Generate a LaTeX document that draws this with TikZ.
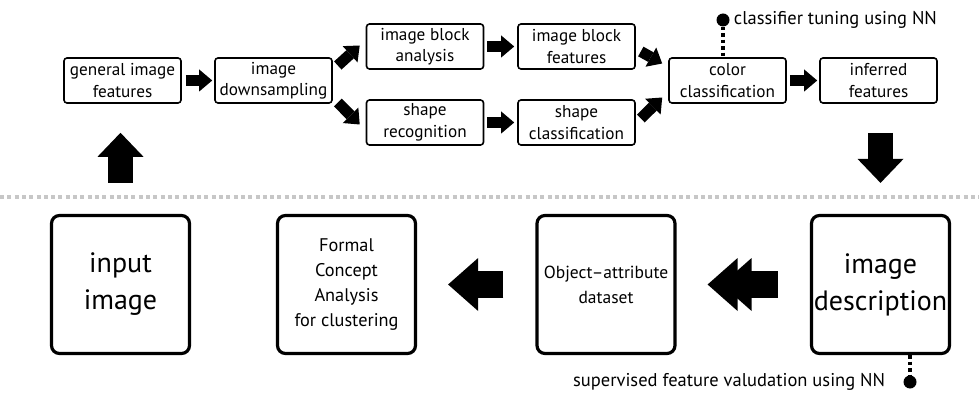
\documentclass[tikz,border=0pt]{standalone}
\usepackage{fontspec}
\setmainfont{PT Sans}
\usetikzlibrary{arrows.meta, calc}
\begin{document}
\begin{tikzpicture}[x=1pt, y=-1pt]
            \tikzset{
                box/.style={draw, line width=1.6pt, rounded corners=3pt, minimum width=117pt, minimum height=45pt, inner sep=0pt, align=center, font=\fontsize{17.2}{21.5}\selectfont},
                bigbox/.style={draw, line width=3.2pt, rounded corners=8pt, minimum width=138pt, minimum height=138pt, inner sep=0pt, align=center},
                flow/.style={line width=11pt, -{Triangle[length=13pt, width=22pt, line width=0pt]}},
                upflow/.style={line width=25pt, -{Triangle[length=24pt, width=46pt, line width=0pt]}},
                backflow/.style={line width=27pt, -{Triangle[length=30pt, width=53pt, line width=0pt]}},
                twinflow/.style={line width=27pt, -{Triangle[length=30pt, width=53pt, line width=0pt, sep=-16pt] Triangle[length=30pt, width=53pt, line width=0pt]}},
                hint/.style={line width=3.5pt, dash pattern=on 3.5pt off 3pt},
                point/.style={circle, fill, inner sep=0pt, minimum size=13pt}
            };
            \useasboundingbox (0, 0) rectangle (979, 398);
            % upper row
            \node[box] (gen) at (122.5, 80.5) {general image\\features};
            \node[box] (down) at (273.5, 80.5) {image\\downsampling};
            \node[box] (blka) at (425, 46.5) {image block\\analysis};
            \node[box] (shrec) at (425, 122.5) {shape\\recognition};
            \node[box] (blkf) at (576.5, 46.5) {image block\\features};
            \node[box] (shcl) at (576.5, 122.5) {shape\\classification};
            \node[box] (color) at (727.5, 80.5) {color\\classification};
            \node[box] (infer) at (878.5, 80.5) {inferred\\features};
            % lower row
            \node[bigbox, font=\fontsize{28}{37}\selectfont] (input) at (120.5, 284.5) {input\\image};
            \node[bigbox, font=\fontsize{18.3}{24.7}\selectfont] (fca) at (346.5, 284.5) {Formal\\Concept\\Analysis\\for clustering};
            \node[bigbox, font=\fontsize{17.5}{25}\selectfont] (obj) at (606, 284.5) {Object–attribute\\dataset};
            \node[bigbox, font=\fontsize{28}{37}\selectfont] (desc) at (880.5, 284.5) {image\\description};
            \draw[black!22, line width=4pt, dash pattern=on 4pt off 3.3pt] (0, 197) -- (979, 197);
            \path[flow]
                (gen) edge[shorten <=4pt, shorten >=2pt] (down)
                ($(down.east)+(5, -15)$) edge ($(blka.west)+(-6, -1)$)
                ($(down.east)+(5, 22)$) edge ($(shrec.west)+(-6, 2)$)
                (blka) edge[shorten <=3pt, shorten >=3pt] (blkf)
                (shrec) edge[shorten <=3pt, shorten >=3pt] (shcl)
                ($(blkf.east)+(5, 5)$) edge ($(color.west)+(-6, -17)$)
                ($(shcl.east)+(5, -4)$) edge ($(color.west)+(-6, 17)$)
                (color) edge[shorten <=3pt, shorten >=2pt] (infer)
            ;
            \draw[upflow, shorten <=31pt, shorten >=29pt] (input.north) -- (input.north |- gen.south);
            \draw[upflow, shorten <=29pt, shorten >=31pt] (infer.south -| desc.north) -- (desc.north);
            \draw[twinflow, shorten <=32pt, shorten >=31pt] (desc.west) -- (obj.east);
            \draw[backflow, shorten <=32pt, shorten >=31pt] (obj.west) -- (fca.east);
            % neural network hints
            \node[point] (tune) at (723, 20) {};
            \node[point] (valid) at (910, 382) {};
            \draw[hint] (tune) -- (tune |- color.north);
            \draw[hint] (valid |- desc.south) -- (valid);
            \node[right, font=\fontsize{18.5}{21}\selectfont, inner xsep=4pt, inner ysep=0pt] at (tune.east) {classifier tuning using NN};
            \node[left, font=\fontsize{18.5}{21}\selectfont, inner xsep=18pt, inner ysep=0pt] at (valid.west) {supervised feature valudation using NN};
        \end{tikzpicture}
\end{document}
